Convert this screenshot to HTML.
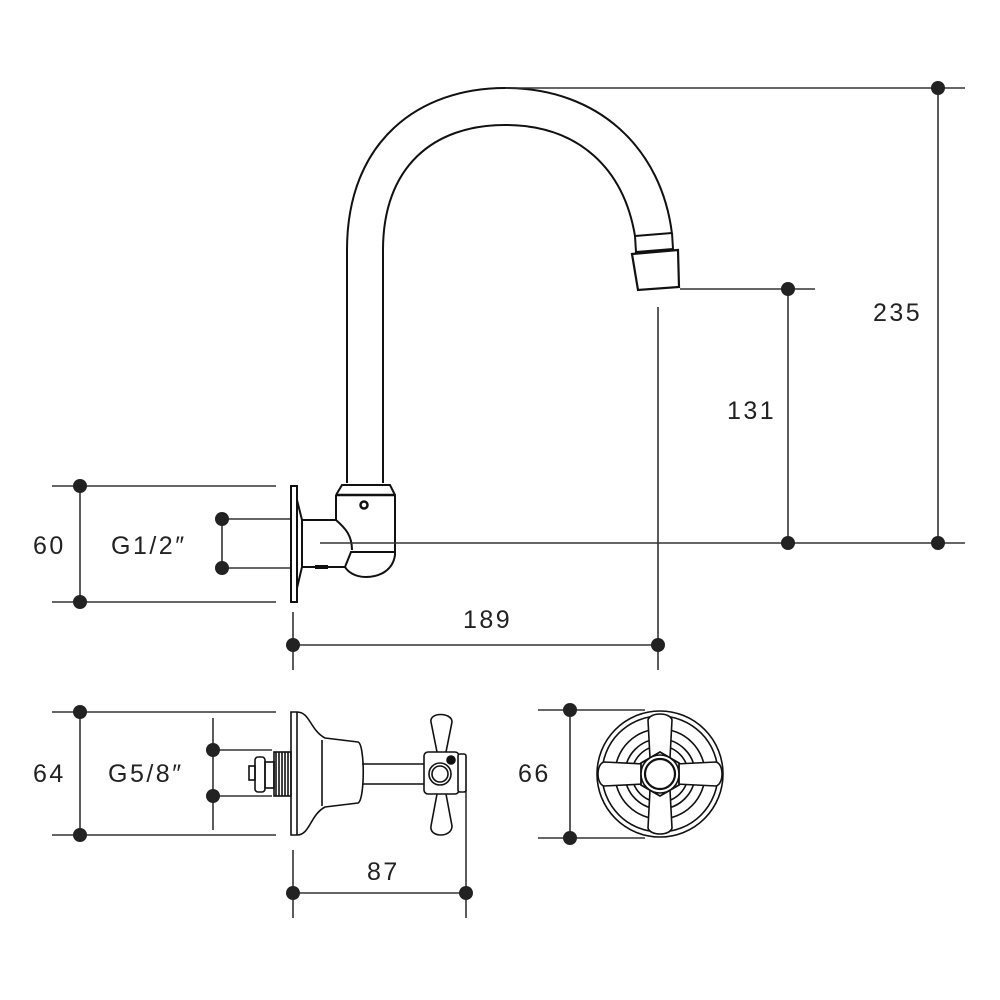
<!DOCTYPE html>
<html><head><style>body{margin:0;background:#fff}svg{display:block}text{font-family:"Liberation Sans",sans-serif;font-size:25px;fill:#222;letter-spacing:2.5px}</style></head><body>
<svg width="1000" height="1000" viewBox="0 0 1000 1000" fill="none" stroke="#111" stroke-width="2">
<!-- spout -->
<path d="M347,483 L347,250 C347,140 420,88 505,88 C600,88 662,150 672,234"/>
<path d="M383,483 L383,250 C383,168 432,125 505,125 C580,125 624,170 635,236"/>
<path d="M635,236 L672,233 M635,236 L636,252 L673,249 L672,233"/>
<path d="M632,254 L678,250 L679,287 L638,290 Z" stroke-width="2.2"/>
<!-- body -->
<path d="M336,495 L342,485 L390,485 L395,495 L395,555 C393,570 380,577 366,577 C355,577 348,572 345,567"/>
<line x1="336" y1="495" x2="395" y2="495" stroke-width="2.5"/>
<circle cx="364" cy="505" r="3.5" stroke-width="2.5"/>
<path d="M336,495 L336,520 L302,520 M302,567 L345,567 L351,552 L395,552 M336,520 C345,528 352,535 352,550"/>
<rect x="291" y="486" width="6" height="116"/>
<path d="M297,500 L302,520 L302,567 L297,588"/>
<line x1="315" y1="567" x2="328" y2="567" stroke-width="4"/>
<!-- dims -->
<g stroke="#333" stroke-width="1.6">
<line x1="505" y1="88" x2="965" y2="88"/><line x1="938" y1="88" x2="938" y2="543"/>
<line x1="320" y1="543" x2="965" y2="543"/>
<line x1="680" y1="289" x2="815" y2="289"/><line x1="788" y1="289" x2="788" y2="543"/>
<line x1="658" y1="307" x2="658" y2="670"/><line x1="293" y1="612" x2="293" y2="670"/>
<line x1="293" y1="645" x2="658" y2="645"/>
<line x1="52" y1="486" x2="276" y2="486"/><line x1="52" y1="602" x2="276" y2="602"/>
<line x1="80" y1="486" x2="80" y2="602"/>
<line x1="222" y1="519" x2="290" y2="519"/><line x1="222" y1="568" x2="290" y2="568"/>
<line x1="222" y1="519" x2="222" y2="568"/>
<line x1="52" y1="712" x2="276" y2="712"/><line x1="52" y1="835" x2="276" y2="835"/>
<line x1="80" y1="712" x2="80" y2="835"/>
<line x1="213" y1="718" x2="213" y2="830"/>
<line x1="213" y1="750" x2="272" y2="750"/><line x1="213" y1="796" x2="272" y2="796"/>
<line x1="293" y1="850" x2="293" y2="918"/><line x1="466" y1="790" x2="466" y2="918"/>
<line x1="293" y1="893" x2="466" y2="893"/>
<line x1="538" y1="710" x2="645" y2="710"/><line x1="538" y1="838" x2="645" y2="838"/>
<line x1="570" y1="710" x2="570" y2="838"/>
</g>
<g fill="#222" stroke="none">
<circle cx="938" cy="88" r="7"/><circle cx="938" cy="543" r="7"/><circle cx="788" cy="289" r="7"/><circle cx="788" cy="543" r="7"/>
<circle cx="293" cy="645" r="7"/><circle cx="658" cy="645" r="7"/>
<circle cx="80" cy="486" r="7"/><circle cx="80" cy="602" r="7"/><circle cx="222" cy="519" r="7"/><circle cx="222" cy="568" r="7"/>
<circle cx="80" cy="712" r="7"/><circle cx="80" cy="835" r="7"/><circle cx="213" cy="750" r="7"/><circle cx="213" cy="796" r="7"/>
<circle cx="293" cy="893" r="7"/><circle cx="466" cy="893" r="7"/><circle cx="570" cy="710" r="7"/><circle cx="570" cy="838" r="7"/>
</g>
<!-- bottom side view -->
<g stroke-width="1.6">
<path d="M291,712 L297,712 C310,712 310,730 325,738 L358,742 C365,744 365,800 358,803 L325,807 C310,815 310,835 297,835 L291,835 Z"/>
<line x1="297" y1="712" x2="297" y2="835"/>
<line x1="322" y1="740" x2="322" y2="806"/>
<rect x="274" y="752" width="17" height="44"/>
<path d="M276,752 v44 M279,752 v44 M282,752 v44 M285,752 v44 M288,752 v44"/>
<rect x="255" y="757" width="10" height="35" rx="3"/><rect x="265" y="762" width="9" height="26"/><rect x="249" y="766" width="6" height="14"/>
<path d="M362,764 L425,764 M362,784 L425,784"/>
<path d="M437,752 L431,722 C429,712 452,712 452,722 L446,752" fill="#fff"/>
<path d="M437,794 L431,826 C429,838 452,838 452,826 L446,794" fill="#fff"/>
<rect x="424" y="752" width="35" height="42" rx="4" fill="#fff"/>
<circle cx="440" cy="774" r="11"/><circle cx="440" cy="774" r="8"/>
<rect x="458" y="754" width="8" height="38" rx="2" fill="#fff"/>
<circle cx="451" cy="760" r="4" fill="#111"/>
</g>
<!-- front view -->
<g stroke-width="1.6">
<circle cx="660" cy="774" r="63"/><circle cx="660" cy="774" r="58"/>
<circle cx="660" cy="774" r="45"/><circle cx="660" cy="774" r="35"/><circle cx="660" cy="774" r="28"/>
<path d="M650,758 L648,720 C650,712 670,712 672,720 L670,758 Z" fill="#fff"/>
<path d="M650,790 L648,828 C650,836 670,836 672,828 L670,790 Z" fill="#fff"/>
<path d="M644,764 L604,762 C596,764 596,784 604,786 L644,784 Z" fill="#fff"/>
<path d="M676,764 L716,762 C724,764 724,784 716,786 L676,784 Z" fill="#fff"/>
<polygon points="660,752 679,763 679,785 660,796 641,785 641,763" fill="#fff" stroke-width="1.8"/>
<circle cx="660" cy="774" r="19" fill="#fff"/><circle cx="660" cy="774" r="15" stroke-width="2.2"/>
</g>
<g stroke="none">
<text x="873" y="321">235</text><text x="727" y="419">131</text><text x="463" y="628">189</text>
<text x="33" y="554">60</text><text x="111" y="554">G1/2″</text>
<text x="33" y="782">64</text><text x="108" y="782">G5/8″</text>
<text x="367" y="880">87</text><text x="518" y="782">66</text>
</g>
</svg>
</body></html>
